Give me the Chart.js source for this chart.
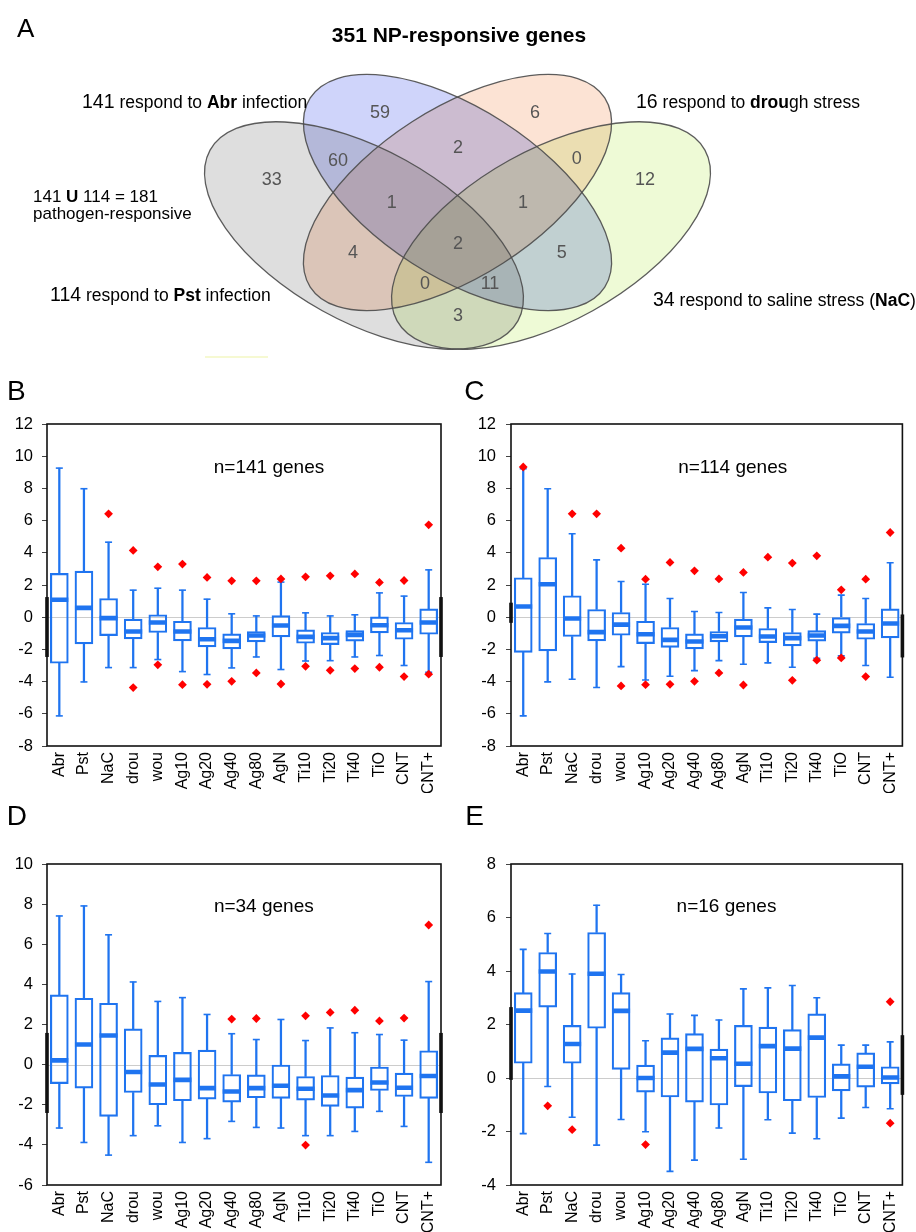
<!DOCTYPE html>
<html><head><meta charset="utf-8">
<script src="https://cdn.jsdelivr.net/npm/chart.js@4.4.1/dist/chart.umd.min.js"></script>
<style>
html,body{margin:0;padding:0;background:#fff;}
#page{position:relative;width:916px;height:1232px;overflow:hidden;background:#fff;}
canvas{position:absolute;display:block;}
</style></head><body><div id="page">
<canvas id="venn" width="916" height="372" style="left:0;top:0"></canvas>
<canvas id="cB" width="458" height="421" style="left:0;top:372px"></canvas>
<canvas id="cC" width="458" height="421" style="left:458px;top:372px"></canvas>
<canvas id="cD" width="458" height="439" style="left:0;top:793px"></canvas>
<canvas id="cE" width="458" height="439" style="left:458px;top:793px"></canvas>
</div>
<script>
// ---------------- DATA ----------------
const categories = ['Abr','Pst','NaC','drou','wou','Ag10','Ag20','Ag40','Ag80','AgN','Ti10','Ti20','Ti40','TiO','CNT','CNT+'];

// Venn (panel A)
const vennTitle = '351 NP-responsive genes';
const vennSetNames = ['Abr','Pst','drou','NaC'];
const vennSetSizes = [141, 114, 16, 34];
const pathogenUnion = 181;
const vennRegionCounts = [59, 6, 60, 2, 0, 33, 12, 1, 1, 2, 4, 5, 0, 11, 3];

// Panel B: n=141 genes
const bN = 141;
const bMin = [-6.13,-4.02,-3.13,-3.13,-2.63,-3.38,-3.56,-3.15,-2.47,-3.25,-2.72,-2.70,-2.47,-2.38,-3.00,-3.42];
const bQ1  = [-2.86,-1.66,-1.14,-1.35,-0.95,-1.47,-1.84,-1.97,-1.53,-1.22,-1.62,-1.70,-1.49,-0.97,-1.37,-1.06];
const bMed = [1.08,0.58,-0.06,-0.89,-0.33,-0.89,-1.37,-1.47,-1.14,-0.52,-1.22,-1.30,-1.10,-0.50,-0.81,-0.33];
const bQ3  = [2.72,2.86,1.16,-0.12,0.15,-0.25,-0.64,-1.04,-0.89,0.10,-0.79,-0.95,-0.83,0.02,-0.33,0.52];
const bMax = [9.26,7.98,4.66,1.68,1.80,1.68,1.12,0.21,0.08,2.18,0.27,0.08,0.15,1.51,1.31,2.94];
const bOut = [[],[],[6.42],[4.15,-4.37],[3.13,-2.96],[3.30,-4.19],[2.47,-4.17],[2.26,-3.98],[2.26,-3.46],[2.38,-4.15],[2.51,-3.05],[2.57,-3.30],[2.69,-3.19],[2.16,-3.11],[2.28,-3.69],[5.74,-3.54]];
const bTicks = [-8, 12];

// Panel C: n=114 genes
const cN = 114;
const cMin = [-6.13,-4.02,-3.85,-4.37,-3.07,-3.90,-3.67,-3.32,-2.70,-2.92,-2.84,-3.11,-2.55,-2.40,-3.00,-3.73];
const cQ1  = [-2.18,-2.09,-1.20,-1.47,-1.12,-1.64,-1.87,-1.97,-1.53,-1.22,-1.58,-1.78,-1.49,-0.99,-1.37,-1.28];
const cMed = [0.66,2.05,-0.08,-0.93,-0.46,-1.06,-1.41,-1.51,-1.18,-0.64,-1.20,-1.30,-1.14,-0.54,-0.89,-0.39];
const cQ3  = [2.45,3.71,1.33,0.48,0.29,-0.25,-0.64,-1.04,-0.89,-0.12,-0.70,-0.95,-0.83,0.00,-0.39,0.52];
const cMax = [9.22,7.98,5.18,3.56,2.22,2.05,1.16,0.35,0.29,1.53,0.58,0.48,0.19,1.37,1.16,3.38];
const cOut = [[9.33],[],[6.42],[6.42],[4.29,-4.27],[2.36,-4.19],[3.40,-4.17],[2.88,-3.98],[2.38,-3.46],[2.78,-4.21],[3.73],[3.36,-3.92],[3.81,-2.67],[1.70,-2.53],[2.36,-3.69],[5.26]];
const cTicks = [-8, 12];

// Panel D: n=34 genes
const dN = 34;
const dMin = [-3.16,-3.88,-4.51,-3.54,-3.05,-3.88,-3.69,-2.83,-3.13,-3.16,-3.54,-3.54,-3.33,-2.33,-3.08,-4.87];
const dQ1  = [-0.95,-1.17,-2.58,-1.39,-2.00,-1.80,-1.72,-1.87,-1.65,-1.68,-1.77,-2.08,-2.17,-1.29,-1.59,-1.68];
const dMed = [0.21,1.00,1.45,-0.37,-0.99,-0.76,-1.17,-1.34,-1.17,-1.05,-1.20,-1.54,-1.27,-0.89,-1.15,-0.57];
const dQ3  = [3.48,3.31,3.06,1.78,0.46,0.61,0.72,-0.49,-0.51,-0.02,-0.59,-0.54,-0.62,-0.12,-0.42,0.69];
const dMax = [7.41,7.91,6.47,4.12,3.15,3.34,2.50,1.54,1.25,2.25,1.20,1.83,1.59,1.50,1.22,4.14];
const dOut = [[],[],[],[],[],[],[],[2.27],[2.30],[],[2.43,-4.01],[2.60],[2.71],[2.18],[2.32],[6.96]];
const dTicks = [-6, 10];

// Panel E: n=16 genes
const eN = 16;
const eMin = [-2.08,-0.32,-1.47,-2.51,-1.55,-2.01,-3.49,-3.07,-1.87,-3.04,-1.56,-2.06,-2.27,-1.50,-1.10,-1.15];
const eQ1  = [0.55,2.65,0.55,1.86,0.32,-0.53,-0.71,-0.90,-1.01,-0.32,-0.56,-0.85,-0.73,-0.48,-0.34,-0.22];
const eMed = [2.52,3.98,1.27,3.90,2.51,0.00,0.95,1.09,0.74,0.53,1.19,1.10,1.51,0.06,0.42,0.02];
const eQ3  = [3.19,4.69,1.97,5.44,3.19,0.48,1.50,1.66,1.08,1.97,1.90,1.81,2.40,0.53,0.94,0.42];
const eMax = [4.81,5.40,3.89,6.46,3.87,1.39,2.39,2.34,2.17,3.33,3.37,3.46,3.00,1.23,1.23,1.35];
const eOut = [[],[-1.04],[-1.93],[],[],[-2.49],[],[],[],[],[],[],[],[],[],[2.85,-1.69]];
const eTicks = [-4, 8];

// ---------------- LAYOUT / STYLE ----------------
const FONT = '"Liberation Sans", Arial, Helvetica, sans-serif';
Chart.defaults.font.family = FONT;
Chart.defaults.color = '#000';

// venn geometry in the venn chart's own units (axis 0..916 x 0..372)
const vennEllipses = [
  {cx: 364,   cy: 235.5, a: 176, b: 86, rot: 29,    fill: '#dedede'},
  {cx: 457.5, cy: 192.5, a: 175, b: 84, rot: 32.7,  fill: '#cfd4fa'},
  {cx: 457.5, cy: 192.5, a: 175, b: 84, rot: -32.7, fill: '#fce3d4'},
  {cx: 551,   cy: 235.5, a: 176, b: 86, rot: -29,   fill: '#eefad6'}
];
const vennRegionPos = [[380,111.7],[535,111.7],[338,160],[458,147],[576.7,158.3],[271.7,179],[645,179],
  [391.7,201.7],[523,201.7],[458,243],[353,251.7],[561.7,251.7],[425,283.3],[490,283.3],[458,315]];

function drawRuns(ctx, x, y, runs, align) {
  const fonts = runs.map(r => (r.b ? 'bold ' : '') + r.s + 'px ' + FONT);
  let total = 0;
  runs.forEach((r, i) => { ctx.font = fonts[i]; total += ctx.measureText(r.t).width; });
  let cx = align === 'center' ? x - total / 2 : x;
  ctx.textAlign = 'left';
  ctx.textBaseline = 'alphabetic';
  runs.forEach((r, i) => { ctx.font = fonts[i]; ctx.fillText(r.t, cx, y); cx += ctx.measureText(r.t).width; });
}

const vennPlugin = {
  id: 'vennDraw',
  beforeDatasetsDraw(chart) {
    const {ctx, scales: {x, y}} = chart;
    const geo = vennEllipses.map(e => {
      const cx = x.getPixelForValue(e.cx), cy = y.getPixelForValue(e.cy);
      return {cx, cy, rx: Math.abs(x.getPixelForValue(e.cx + e.a) - cx), ry: Math.abs(y.getPixelForValue(e.cy + e.b) - cy), rot: e.rot * Math.PI / 180, fill: e.fill};
    });
    ctx.save();
    ctx.globalCompositeOperation = 'multiply';
    geo.forEach(g => { ctx.beginPath(); ctx.ellipse(g.cx, g.cy, g.rx, g.ry, g.rot, 0, Math.PI * 2); ctx.fillStyle = g.fill; ctx.fill(); });
    ctx.globalCompositeOperation = 'source-over';
    ctx.strokeStyle = 'rgba(75,75,75,0.9)';
    ctx.lineWidth = 1.3;
    geo.forEach(g => { ctx.beginPath(); ctx.ellipse(g.cx, g.cy, g.rx, g.ry, g.rot, 0, Math.PI * 2); ctx.stroke(); });
    // faint artefact line under the diagram
    ctx.fillStyle = 'rgba(245,248,205,0.9)';
    ctx.fillRect(x.getPixelForValue(205), y.getPixelForValue(356), 63, 2);
    ctx.restore();
  },
  afterDatasetsDraw(chart) {
    const {ctx} = chart;
    const meta = chart.getDatasetMeta(0);
    ctx.save();
    ctx.fillStyle = '#555';
    ctx.font = '18px ' + FONT;
    ctx.textAlign = 'center';
    ctx.textBaseline = 'middle';
    meta.data.forEach((pt, i) => ctx.fillText(String(vennRegionCounts[i]), pt.x, pt.y + 1));
    ctx.fillStyle = '#000';
    ctx.font = '26px ' + FONT;
    ctx.textAlign = 'left'; ctx.textBaseline = 'alphabetic';
    ctx.fillText('A', 17, 37);
    drawRuns(ctx, 459, 41.5, [{t: vennTitle, s: 21, b: true}], 'center');
    drawRuns(ctx, 82, 108, [{t: String(vennSetSizes[0]), s: 19.5}, {t: ' respond to ', s: 17.5}, {t: vennSetNames[0], s: 17.5, b: true}, {t: ' infection', s: 17.5}]);
    drawRuns(ctx, 636, 108, [{t: String(vennSetSizes[2]), s: 19.5}, {t: ' respond to ', s: 17.5}, {t: 'drou', s: 17.5, b: true}, {t: 'gh stress', s: 17.5}]);
    drawRuns(ctx, 33, 201.5, [{t: vennSetSizes[0] + ' ', s: 17}, {t: 'U', s: 17, b: true}, {t: ' ' + vennSetSizes[1] + ' = ' + pathogenUnion, s: 17}]);
    drawRuns(ctx, 33, 219, [{t: 'pathogen-responsive', s: 17}]);
    drawRuns(ctx, 50, 301, [{t: String(vennSetSizes[1]), s: 19.5}, {t: ' respond to ', s: 17.5}, {t: vennSetNames[1], s: 17.5, b: true}, {t: ' infection', s: 17.5}]);
    drawRuns(ctx, 653, 306, [{t: String(vennSetSizes[3]), s: 19.5}, {t: ' respond to saline stress (', s: 17.5}, {t: vennSetNames[3], s: 17.5, b: true}, {t: ')', s: 17.5}]);
    ctx.restore();
  }
};

new Chart(document.getElementById('venn'), {
  type: 'scatter',
  data: {datasets: [{data: vennRegionPos.map(p => ({x: p[0], y: p[1]})), pointRadius: 0, pointHoverRadius: 0}]},
  options: {
    responsive: false, animation: false, events: [],
    layout: {padding: 0},
    plugins: {legend: {display: false}, tooltip: {enabled: false}},
    scales: {
      x: {type: 'linear', min: 0, max: 916, display: false},
      y: {type: 'linear', min: 0, max: 372, reverse: true, display: false}
    }
  },
  plugins: [vennPlugin]
});

// ---------------- BOX PLOT PANELS ----------------
const BLUE = '#1f74f0';
const RED = '#ff0000';

const panelPlugin = {
  id: 'panelDeco',
  beforeDatasetsDraw(chart, args, opts) {
    const {ctx, chartArea: a, scales: {y}} = chart;
    const y0 = y.getPixelForValue(0);
    ctx.save();
    ctx.strokeStyle = '#cccccc'; ctx.lineWidth = 1;
    ctx.beginPath(); ctx.moveTo(a.left, Math.round(y0) + 0.5); ctx.lineTo(a.right, Math.round(y0) + 0.5); ctx.stroke();
    ctx.restore();
  },
  afterDraw(chart, args, opts) {
    const {ctx, chartArea: a, scales: {y}} = chart;
    ctx.save();
    ctx.strokeStyle = '#111'; ctx.lineWidth = 1.6;
    ctx.strokeRect(a.left, a.top, a.right - a.left, a.bottom - a.top);
    ctx.fillStyle = '#111';
    const edge = (xx, r) => { const t = y.getPixelForValue(r[1]), b = y.getPixelForValue(r[0]); ctx.fillRect(xx - 1.8, t, 3.6, b - t); };
    edge(a.left, opts.edgeL); edge(a.right, opts.edgeR);
    ctx.fillStyle = '#000';
    ctx.textBaseline = 'alphabetic';
    ctx.textAlign = 'left';
    ctx.font = '28px ' + FONT;
    ctx.fillText(opts.letter, opts.lx, opts.ly);
    ctx.textAlign = 'center';
    ctx.font = '19px ' + FONT;
    ctx.fillText('n=' + opts.n + ' genes', opts.nx, opts.ny);
    ctx.restore();
  }
};

function boxChart(id, d, L) {
  const outPts = [];
  d.out.forEach((arr, i) => arr.forEach(v => outPts.push({x: categories[i], y: v})));
  const pt = {type: 'line', showLine: false, pointHoverRadius: 0};
  const datasets = [
    Object.assign({}, pt, {data: outPts, pointStyle: 'rectRot', pointRadius: 4.4, pointBackgroundColor: RED, pointBorderColor: RED, pointBorderWidth: 0}),
    Object.assign({}, pt, {data: d.med, pointStyle: 'line', pointRadius: 9, pointBorderColor: BLUE, pointBorderWidth: 4.6}),
    Object.assign({}, pt, {data: d.max, pointStyle: 'line', pointRadius: 3.5, pointBorderColor: BLUE, pointBorderWidth: 1.6}),
    Object.assign({}, pt, {data: d.min, pointStyle: 'line', pointRadius: 3.5, pointBorderColor: BLUE, pointBorderWidth: 1.6}),
    {type: 'bar', data: d.q1.map((v, i) => [v, d.q3[i]]), backgroundColor: 'rgba(255,255,255,0)', borderColor: BLUE, borderWidth: 1.5, borderSkipped: false, barThickness: 18, grouped: false},
    {type: 'bar', data: d.min.map((v, i) => [v, d.q1[i]]), backgroundColor: BLUE, borderWidth: 0, barThickness: 1.6, grouped: false},
    {type: 'bar', data: d.q3.map((v, i) => [v, d.max[i]]), backgroundColor: BLUE, borderWidth: 0, barThickness: 1.6, grouped: false}
  ];
  new Chart(document.getElementById(id), {
    type: 'bar',
    data: {labels: categories, datasets},
    options: {
      responsive: false, animation: false, events: [],
      layout: {padding: {left: 0, top: L.top, right: L.right, bottom: 0}},
      plugins: {legend: {display: false}, tooltip: {enabled: false},
        panelDeco: {letter: L.letter, lx: L.lx, ly: L.ly, n: d.n, nx: L.nx, ny: L.ny, edgeL: L.edgeL, edgeR: L.edgeR}},
      scales: {
        x: {type: 'category', offset: true,
          grid: {display: false, drawTicks: false}, border: {display: false},
          ticks: {minRotation: 90, maxRotation: 90, autoSkip: false, padding: 6, color: '#000', font: {size: 16}},
          afterFit: s => { s.height = L.xh; }},
        y: {type: 'linear', min: d.ticks[0], max: d.ticks[1],
          grid: {drawOnChartArea: false, drawTicks: true, tickLength: 5, color: '#444', lineWidth: 1}, border: {display: false},
          ticks: {stepSize: 2, padding: L.tp, color: '#000', font: {size: 16.5}},
          afterFit: s => { s.width = L.yw; }}
      }
    },
    plugins: [panelPlugin]
  });
}

boxChart('cB', {n: bN, min: bMin, q1: bQ1, med: bMed, q3: bQ3, max: bMax, out: bOut, ticks: bTicks},
  {top: 52, right: 17, yw: 47, xh: 47, tp: 9, letter: 'B', lx: 7, ly: 28, nx: 269, ny: 100.7, edgeL: [-2.47, 1.25], edgeR: [-2.47, 1.25]});
boxChart('cC', {n: cN, min: cMin, q1: cQ1, med: cMed, q3: cQ3, max: cMax, out: cOut, ticks: cTicks},
  {top: 52, right: 12, yw: 53, xh: 47, tp: 10, letter: 'C', lx: 6.3, ly: 28, nx: 274.7, ny: 100.7, edgeL: [-0.35, 0.9], edgeR: [-2.5, 0.17]});
boxChart('cD', {n: dN, min: dMin, q1: dQ1, med: dMed, q3: dQ3, max: dMax, out: dOut, ticks: dTicks},
  {top: 71, right: 17, yw: 47, xh: 47, tp: 9, letter: 'D', lx: 6.7, ly: 32, nx: 263.8, ny: 118.7, edgeL: [-2.41, 1.58], edgeR: [-2.41, 1.58]});
boxChart('cE', {n: eN, min: eMin, q1: eQ1, med: eMed, q3: eQ3, max: eMax, out: eOut, ticks: eTicks},
  {top: 71, right: 12, yw: 53, xh: 47, tp: 10, letter: 'E', lx: 7.3, ly: 32, nx: 268.5, ny: 118.7, edgeL: [-0.07, 2.65], edgeR: [-0.63, 1.6]});
</script>
</body></html>
